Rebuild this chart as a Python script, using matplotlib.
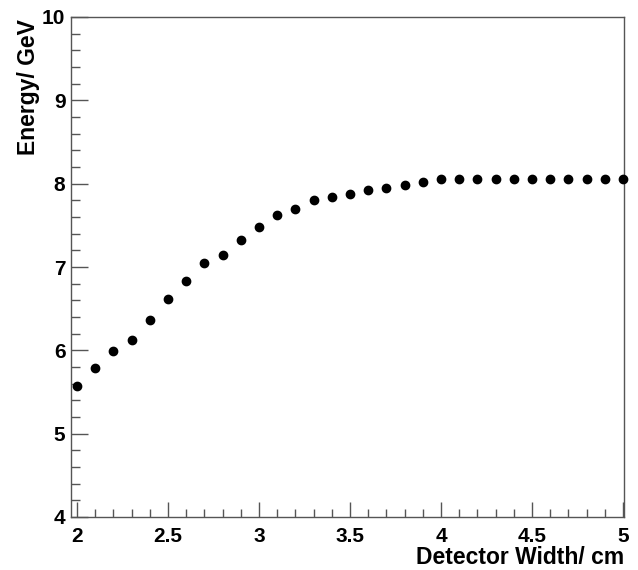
import numpy as np
import matplotlib.pyplot as plt
from matplotlib.ticker import MultipleLocator

# detector width (cm) and measured energy (GeV)
width = [2.0, 2.1, 2.2, 2.3, 2.4, 2.5, 2.6, 2.7, 2.8, 2.9,
         3.0, 3.1, 3.2, 3.3, 3.4, 3.5, 3.6, 3.7, 3.8, 3.9,
         4.0, 4.1, 4.2, 4.3, 4.4, 4.5, 4.6, 4.7, 4.8, 4.9, 5.0]
energy = [5.57, 5.79, 5.99, 6.12, 6.36, 6.62, 6.83, 7.05, 7.14, 7.32,
          7.48, 7.62, 7.70, 7.80, 7.84, 7.88, 7.92, 7.95, 7.98, 8.02,
          8.06, 8.06, 8.06, 8.06, 8.06, 8.06, 8.06, 8.06, 8.06, 8.06, 8.06]

plt.rcParams['font.family'] = ['Liberation Sans', 'DejaVu Sans']
plt.rcParams['font.weight'] = 'bold'

fig = plt.figure(figsize=(6.38, 5.70), dpi=100)
ax = fig.add_axes([71/638, 53/570, 553/638, 500/570])

ax.plot(width, energy, 'o', color='black', markersize=6, clip_on=False, zorder=3)

ax.set_xlim(1.967, 5.005)
ax.set_ylim(4, 10)
ax.xaxis.set_major_locator(MultipleLocator(0.5))
ax.xaxis.set_minor_locator(MultipleLocator(0.1))
ax.yaxis.set_major_locator(MultipleLocator(1))
ax.yaxis.set_minor_locator(MultipleLocator(0.2))
ax.xaxis.set_major_formatter(plt.FuncFormatter(lambda v, p: ('%g' % v)))

edge = '#555555'
for s in ax.spines.values():
    s.set_color(edge)
    s.set_linewidth(1.0)
ax.tick_params(which='both', direction='in', color=edge, width=1.0,
               top=False, right=False, labelsize=15)
ax.tick_params(axis='y', which='major', length=12, pad=4)
ax.tick_params(axis='y', which='minor', length=6.5)
ax.tick_params(axis='x', which='major', pad=7, length=11)
ax.tick_params(axis='x', which='minor', length=5.5)
for lab in ax.get_xticklabels() + ax.get_yticklabels():
    lab.set_fontweight('bold')

fig.text(624/638, 6/570, 'Detector Width/ cm', ha='right', va='baseline',
         fontsize=16.5, fontweight='bold')
fig.text(17/638, 1 - 19/570, 'Energy/ GeV', ha='left', va='top', rotation=90,
         fontsize=16.5, fontweight='bold')

fig.savefig('out.png', dpi=100)
